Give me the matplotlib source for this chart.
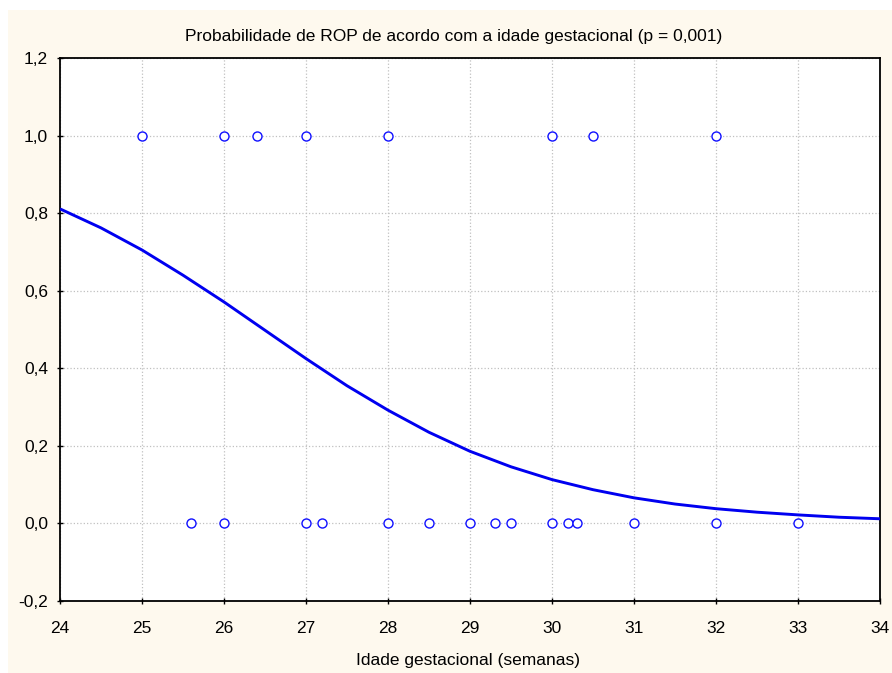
import matplotlib
matplotlib.use("Agg")
import matplotlib.pyplot as plt
from matplotlib.patches import Rectangle

plt.rcParams["font.family"] = ["Liberation Sans", "DejaVu Sans"]

# Observed cases: ROP present (1) and absent (0) by gestational age
ga_rop = [25, 26, 26.4, 27, 28, 30, 30.5, 32]
ga_no_rop = [25.6, 26, 27, 27.2, 28, 28.5, 29, 29.3, 29.5, 30, 30.2, 30.3, 31, 32, 33]

# Fitted probability curve
curve_ga = [24, 24.5, 25, 25.5, 26, 26.5, 27, 27.5, 28, 28.5, 29,
            29.5, 30, 30.5, 31, 31.5, 32, 32.5, 33, 33.5, 34]
curve_p = [0.811, 0.762, 0.705, 0.640, 0.571, 0.498, 0.425, 0.355, 0.292, 0.235, 0.186,
           0.146, 0.113, 0.087, 0.066, 0.050, 0.038, 0.029, 0.022, 0.016, 0.012]

x_ticks = list(range(24, 35))
y_ticks = [-0.2, 0.0, 0.2, 0.4, 0.6, 0.8, 1.0, 1.2]
y_labels = ["-0,2", "0,0", "0,2", "0,4", "0,6", "0,8", "1,0", "1,2"]

fig = plt.figure(figsize=(8.92, 6.73), dpi=100, facecolor="white")
fig.patches.append(Rectangle((8 / 892, 0), 1, 1 - 10 / 673, transform=fig.transFigure,
                             facecolor="#fef9ee", edgecolor="none", zorder=-10))

ax = fig.add_axes([60 / 892, 72 / 673, 820 / 892, 543 / 673], zorder=5)
ax.set_facecolor("white")

ax.plot(curve_ga, curve_p, color="#0000f0", linewidth=2.1, zorder=3,
        solid_joinstyle="round", solid_capstyle="butt")
ax.plot(ga_rop, [1] * len(ga_rop), linestyle="none", marker="o", markersize=6.5,
        markerfacecolor="white", markeredgecolor="#1010ff", markeredgewidth=1.0, zorder=4)
ax.plot(ga_no_rop, [0] * len(ga_no_rop), linestyle="none", marker="o", markersize=6.5,
        markerfacecolor="white", markeredgecolor="#1010ff", markeredgewidth=1.0, zorder=4)

ax.set_xlim(24, 34)
ax.set_ylim(-0.2, 1.2)
ax.set_xticks(x_ticks)
ax.set_xticklabels([str(t) for t in x_ticks])
ax.set_yticks(y_ticks)
ax.set_yticklabels(y_labels)
ax.tick_params(direction="inout", length=5, width=1, labelsize=12.5, colors="black")
ax.tick_params(axis="x", pad=12)
ax.tick_params(axis="y", pad=6)
ax.grid(True, color="#c0c0c0", linestyle=":", linewidth=0.9)

for s in ax.spines.values():
    s.set_linewidth(1.3)
    s.set_color("black")

fig.text(454 / 892, 1 - 37 / 673, "Probabilidade de ROP de acordo com a idade gestacional (p = 0,001)",
         ha="center", va="center", fontsize=12.5)
fig.text(468 / 892, 1 - 661 / 673, "Idade gestacional (semanas)",
         ha="center", va="center", fontsize=12.5)

fig.savefig("out.png", dpi=100, facecolor=fig.get_facecolor())
